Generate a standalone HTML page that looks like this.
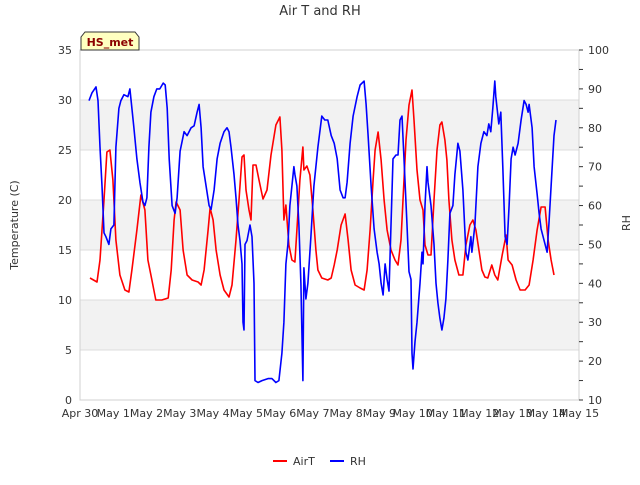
<!DOCTYPE html>
<html><head><meta charset="utf-8"><style>
body{margin:0;background:#fff;font-family:"Liberation Sans","DejaVu Sans",sans-serif}
svg text{font-family:"DejaVu Sans","Liberation Sans",sans-serif}
</style></head><body>
<svg id="c" width="640" height="480" xmlns="http://www.w3.org/2000/svg"></svg>
<script>
const xTickLabels=["Apr 30","May 1","May 2","May 3","May 4","May 5","May 6","May 7","May 8","May 9","May 10","May 11","May 12","May 13","May 14","May 15"];
const leftTicks=[0,5,10,15,20,25,30,35];
const rightTicks=[10,20,30,40,50,60,70,80,90,100];
const airT_t=[0.30,0.51,0.60,0.72,0.81,0.90,0.99,1.08,1.20,1.35,1.47,1.56,1.71,1.83,1.95,2.04,2.16,2.28,2.46,2.65,2.74,2.83,2.89,3.01,3.10,3.22,3.37,3.55,3.64,3.73,3.85,3.91,4.00,4.09,4.21,4.33,4.48,4.57,4.69,4.78,4.87,4.93,4.99,5.08,5.14,5.20,5.29,5.38,5.50,5.62,5.74,5.89,6.01,6.07,6.13,6.19,6.28,6.37,6.46,6.52,6.61,6.70,6.73,6.82,6.91,7.00,7.09,7.15,7.27,7.45,7.55,7.64,7.73,7.85,7.97,8.06,8.15,8.27,8.42,8.54,8.63,8.72,8.81,8.87,8.96,9.05,9.14,9.23,9.35,9.47,9.56,9.65,9.74,9.80,9.89,9.98,10.04,10.13,10.22,10.31,10.37,10.46,10.55,10.64,10.73,10.82,10.88,10.97,11.03,11.09,11.18,11.27,11.39,11.51,11.60,11.72,11.81,11.90,11.99,12.08,12.17,12.26,12.38,12.47,12.56,12.69,12.81,12.87,12.99,13.11,13.23,13.38,13.50,13.62,13.74,13.86,13.98,14.07,14.16,14.25];
const airT_v=[12.2,11.8,14,20,24.8,25,22,16,12.5,11,10.8,13,17,20.5,19,14,12,10,10,10.2,13,18,19.8,19,15,12.5,12,11.8,11.5,13,17,19.2,18,15,12.5,11,10.3,11.5,16,20,24.3,24.5,21,19,18,23.5,23.5,22,20.1,21,24.5,27.5,28.3,25,18,19.5,15.5,14,13.8,17,22,25.3,23,23.4,22.5,19,15,13,12.2,12,12.2,13.5,15,17.5,18.6,16,13,11.5,11.2,11,13,17,22,25,26.8,24,20,17,15,14,13.5,16,22,26,29.5,31,28,23,20,19,15.5,14.5,14.5,20,25,27.5,27.8,26,24,20,16,14,12.5,12.5,15.5,17.5,18,17,15,13,12.3,12.2,13.5,12.5,12,14.5,16.5,14,13.5,12,11,11,11.5,14,17,19.3,19.3,16,14,12.5];
const rh_t=[0.27,0.36,0.48,0.54,0.60,0.66,0.72,0.78,0.87,0.93,1.02,1.08,1.17,1.23,1.32,1.44,1.50,1.56,1.62,1.71,1.80,1.89,1.95,2.01,2.07,2.13,2.22,2.31,2.40,2.50,2.56,2.62,2.68,2.77,2.86,2.92,3.01,3.13,3.22,3.34,3.43,3.52,3.58,3.64,3.70,3.79,3.88,3.94,4.03,4.12,4.21,4.33,4.42,4.48,4.54,4.63,4.69,4.75,4.81,4.87,4.90,4.93,4.96,5.02,5.11,5.17,5.23,5.26,5.35,5.47,5.65,5.77,5.89,5.98,6.07,6.13,6.19,6.25,6.31,6.37,6.43,6.46,6.52,6.58,6.64,6.70,6.73,6.79,6.85,6.94,7.03,7.15,7.27,7.36,7.45,7.55,7.64,7.73,7.82,7.91,7.97,8.03,8.12,8.21,8.33,8.42,8.54,8.60,8.66,8.75,8.84,8.93,8.99,9.05,9.11,9.17,9.23,9.29,9.35,9.41,9.50,9.56,9.62,9.68,9.74,9.83,9.89,9.95,9.98,10.01,10.07,10.13,10.22,10.28,10.31,10.37,10.43,10.46,10.55,10.64,10.70,10.76,10.82,10.88,10.94,11.00,11.06,11.12,11.21,11.27,11.36,11.42,11.51,11.60,11.66,11.75,11.78,11.87,11.96,12.05,12.14,12.23,12.29,12.35,12.41,12.47,12.50,12.59,12.65,12.71,12.78,12.84,12.90,12.96,13.02,13.08,13.17,13.26,13.35,13.41,13.47,13.50,13.59,13.65,13.74,13.80,13.86,13.92,13.98,14.04,14.10,14.16,14.25,14.31];
const rh_v=[87,89,90.5,87,75,65,53,52,50,54,55,75,85,87,88.5,88,90,85,80,72,66,61,60,62,75,84,88,90,90,91.5,91,85,72,60,58,62,74,79,78,80,80.5,84,86,80,70,65,60,59,64,72,76,79,80,79,75,68,62,55,51,45,30,28,50,51,55,52,40,15,14.5,15,15.5,15.5,14.5,15,22,30,45,50,60,65,70,68,65,55,40,15,44,36,40,52,65,75,83,82,82,78,76,72,64,62,62,66,76,83,88,91,92,86,78,65,54,48,45,40,37,45,41,38,55,72,73,73,82,83,72,55,43,41,22,18,25,30,40,48,45,60,70,66,60,50,40,35,31,28,31,36,46,58,60,68,76,74,64,48,46,52,48,55,70,76,79,78,81,79,85,92,88,81,84,70,52,50,60,72,75,73,76,82,87,86,84,86,80,70,63,58,54,52,50,48,56,65,78,82];

const X0=80,X1=579,Y0=50,Y1=400;
const xs=d=>X0+(X1-X0)*d/15;
const yL=v=>Y1-(Y1-Y0)*v/35;
const yR=v=>Y1-(Y1-Y0)*(v-10)/90;
const svg=document.getElementById('c');
const NS='http://www.w3.org/2000/svg';
function mk(tag,attrs,parent){const e=document.createElementNS(NS,tag);for(const k in attrs)e.setAttribute(k,attrs[k]);(parent||svg).appendChild(e);return e;}

// bands
[[25,30],[15,20],[5,10]].forEach(b=>{
  const r=mk('rect',{x:X0,y:yL(b[1]),width:X1-X0,height:yL(b[0])-yL(b[1]),fill:'#f2f2f2'});
  
  
});
// grid
leftTicks.forEach(v=>{
  const l=mk('line',{x1:X0,x2:X1,y1:yL(v),y2:yL(v),stroke:'#dcdcdc','stroke-width':1});
  
  
});
const fr=mk('rect',{x:X0,y:Y0,width:X1-X0,height:Y1-Y0,fill:'none',stroke:'#d0d0d0'});



// left ticks
leftTicks.forEach(v=>{
  const t=mk('text',{x:72,y:yL(v)+4,'text-anchor':'end','font-size':11,fill:'#333'});
  t.textContent=v;
  
  
});
// right ticks
for(let v=10;v<=100;v+=5){
  const l=mk('line',{x1:X1,x2:X1+4,y1:yR(v),y2:yR(v),stroke:'#333'});
  
  
}
rightTicks.forEach(v=>{
  const t=mk('text',{x:588,y:yR(v)+4,'font-size':11,fill:'#333'});
  t.textContent=v;
  
  
});
// x ticks
xTickLabels.forEach((s,i)=>{
  const t=mk('text',{x:xs(i),y:417,'text-anchor':'middle','font-size':11,fill:'#333'});
  t.textContent=s;
  
  
});

function line(ts,vs,yf,color,name){
  const p=mk('path',{d:ts.map((t,i)=>(i?'L':'M')+xs(t).toFixed(1)+','+yf(vs[i]).toFixed(1)).join(''),fill:'none',stroke:color,'stroke-width':1.6,'stroke-linejoin':'round'});
  
  
}
line(airT_t,airT_v,yL,'#ff0000','airt-line');
line(rh_t,rh_v,yR,'#0000ff','rh-line');
</script>
<svg style="position:absolute;left:0;top:0" width="640" height="480" xmlns="http://www.w3.org/2000/svg">
<text x="320" y="15" text-anchor="middle" font-size="13" fill="#333">Air T and RH</text>
<text x="18" y="225" text-anchor="middle" font-size="11" fill="#333" transform="rotate(-90 18 225)">Temperature (C)</text>
<text x="630" y="223" text-anchor="middle" font-size="11" fill="#333" transform="rotate(-90 630 223)">RH</text>
<g>
<path d="M81,50 L81,37 L85,32 L135,32 L139,37 L139,50 Z" fill="#ffffc0" stroke="#333"/>
<text x="110" y="46" text-anchor="middle" font-size="11" font-weight="bold" fill="#8b0000">HS_met</text>
</g>
<g>
<line x1="273" x2="287" y1="461" y2="461" stroke="#ff0000" stroke-width="2"/>
<text x="293" y="465" font-size="11" fill="#333">AirT</text>
<line x1="330" x2="344" y1="461" y2="461" stroke="#0000ff" stroke-width="2"/>
<text x="350" y="465" font-size="11" fill="#333">RH</text>
</g>
</svg>
</body></html>
